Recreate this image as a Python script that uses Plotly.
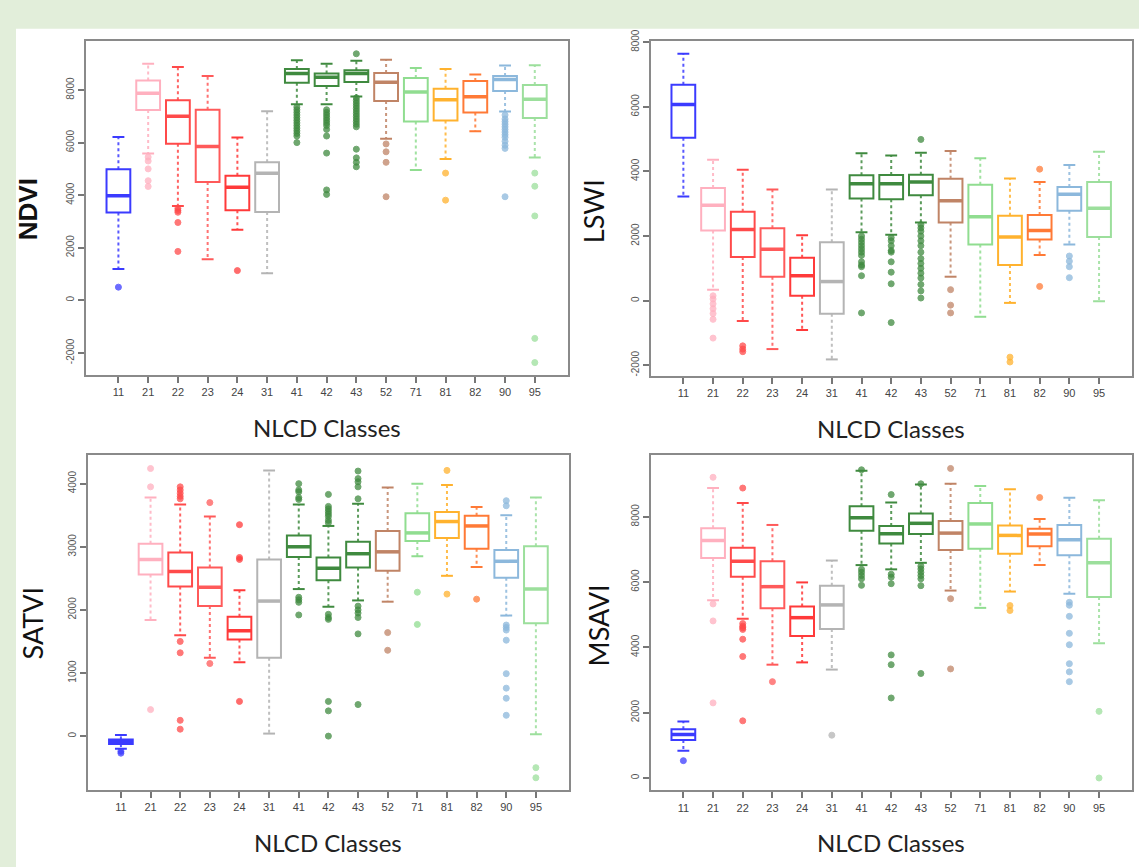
import plotly.graph_objects as go

CLASSES = ["11", "21", "22", "23", "24", "31", "41", "42", "43", "52", "71", "81", "82", "90", "95"]
COLORS = ["#3b3bff", "#ffb0bf", "#ff4a4a", "#ff5a5a", "#ff3a3a", "#b4b4b4", "#3f8a3f", "#3f8a3f",
          "#3f8a3f", "#c08466", "#90dd90", "#ffb22e", "#ff7a36", "#8cb8dc", "#9cdf9c"]

# ---------------- NDVI ----------------
NDVI_HI = [6210, 9000, 8880, 8530, 6190, 7190, 9130, 9000, 9110, 9150, 8840, 8800, 8590, 8930, 8940]
NDVI_Q3 = [4990, 8360, 7610, 7250, 4740, 5250, 8800, 8630, 8750, 8650, 8460, 8050, 8340, 8530, 8190]
NDVI_MED = [3980, 7880, 7000, 5850, 4300, 4830, 8630, 8490, 8630, 8300, 7930, 7630, 7740, 8400, 7650]
NDVI_Q1 = [3340, 7240, 5960, 4500, 3430, 3360, 8280, 8150, 8310, 7580, 6800, 6840, 7150, 7960, 6940]
NDVI_LO = [1190, 5590, 3590, 1560, 2680, 1030, 7460, 7460, 7750, 6150, 4960, 5380, 6430, 7180, 5430]
NDVI_OUT = [
    [500],
    [5450, 5300, 5000, 4550, 4330],
    [3500, 3420, 3350, 2960, 1860],
    [],
    [1130],
    [],
    [7350, 7250, 7150, 7050, 6950, 6850, 6750, 6650, 6550, 6450, 6350, 6250, 6000],
    [7250, 7150, 7050, 6950, 6850, 6750, 6650, 6500, 6250, 5600, 4200, 4030],
    [9380, 7700, 7600, 7500, 7400, 7300, 7200, 7100, 7000, 6900, 6800, 6700, 6600, 5750, 5420, 5250, 5080],
    [5950, 5650, 5250, 3940],
    [],
    [4840, 3810],
    [],
    [7050, 6900, 6800, 6700, 6600, 6500, 6400, 6300, 6200, 6050, 5900, 5780, 3940],
    [4840, 4340, 3210, -1450, -2370],
]

# ---------------- LSWI ----------------
LSWI_HI = [7640, 4360, 4050, 3440, 2020, 3440, 4560, 4490, 4580, 4630, 4410, 3780, 3670, 4200, 4610]
LSWI_Q3 = [6680, 3490, 2750, 2240, 1330, 1810, 3880, 3890, 3900, 3770, 3590, 2630, 2650, 3520, 3670]
LSWI_MED = [6070, 2950, 2200, 1590, 770, 590, 3620, 3620, 3670, 3090, 2600, 1970, 2170, 3290, 2860]
LSWI_Q1 = [5040, 2170, 1350, 740, 150, -410, 3160, 3140, 3260, 2420, 1740, 1100, 1890, 2780, 1970]
LSWI_LO = [3220, 340, -630, -1500, -910, -1820, 2120, 2040, 2420, 740, -500, -70, 1410, 1740, -20]
LSWI_OUT = [
    [],
    [150, 50, -100, -250, -400, -580, -1160],
    [-1400, -1500, -1580],
    [],
    [],
    [],
    [2000, 1900, 1800, 1700, 1600, 1500, 1400, 1200, 1100, 1050, 770, -380],
    [1950, 1850, 1700, 1550, 1500, 1200, 880, 520, -680],
    [4990, 2350, 2250, 2150, 2000, 1850, 1700, 1500, 1300, 1150, 1000, 850, 700, 500, 300, 80],
    [340, -140, -380],
    [],
    [-1750, -1900],
    [4070, 440],
    [1380, 1220, 1050, 710],
    [],
]

# ---------------- SATVI ----------------
SATVI_HI = [16, 3780, 3670, 3480, 2310, 4210, 3670, 3330, 3680, 3940, 4000, 3980, 3630, 3500, 3780]
SATVI_Q3 = [-52, 3050, 2910, 2670, 1890, 2800, 3180, 2830, 3080, 3250, 3530, 3550, 3490, 2950, 3010]
SATVI_MED = [-89, 2800, 2610, 2360, 1670, 2140, 3000, 2660, 2890, 2920, 3220, 3400, 3330, 2770, 2330]
SATVI_Q1 = [-125, 2560, 2370, 2060, 1530, 1240, 2840, 2470, 2670, 2620, 3090, 3140, 2970, 2510, 1790]
SATVI_LO = [-200, 1840, 1600, 1240, 1170, 40, 2330, 2050, 2150, 2130, 2850, 2540, 2680, 1910, 30]
SATVI_OUT = [
    [-240, -270],
    [4240, 3950, 420],
    [3950, 3900, 3850, 3800, 3760, 1500, 1320, 250, 110],
    [3700, 1150],
    [3350, 2830, 2800, 550],
    [],
    [4000, 3900, 3870, 3780, 3750, 2200, 2160, 2120, 1920],
    [3830, 3640, 3600, 3560, 3520, 3480, 3420, 3380, 1930, 1880, 1850, 550, 400, 0],
    [4200, 4080, 4030, 3950, 3760, 2060, 2000, 1950, 1880, 1620, 500],
    [1640, 1360],
    [2280, 1770],
    [4210, 2250],
    [2170],
    [3730, 3650, 1760, 1720, 1680, 1520, 990, 760, 600, 330],
    [-500, -660],
]

# ---------------- MSAVI ----------------
MSAVI_HI = [1730, 8880, 8420, 7750, 5990, 6660, 9410, 8440, 8990, 9010, 8940, 8840, 7930, 8580, 8510]
MSAVI_Q3 = [1490, 7650, 7050, 6640, 5250, 5890, 8320, 7720, 8100, 7870, 8420, 7730, 7630, 7750, 7330]
MSAVI_MED = [1330, 7270, 6640, 5860, 4910, 5300, 7970, 7480, 7800, 7500, 7780, 7430, 7470, 7300, 6590]
MSAVI_Q1 = [1160, 6740, 6160, 5200, 4350, 4560, 7570, 7180, 7470, 6980, 7020, 6870, 7100, 6820, 5540]
MSAVI_LO = [830, 5440, 4880, 3470, 3540, 3320, 6520, 6390, 6590, 5740, 5210, 5710, 6520, 5640, 4130]
MSAVI_OUT = [
    [530],
    [9210, 5330, 4810, 2300],
    [8880, 4730, 4650, 4600, 4550, 4250, 3720, 1750],
    [2950],
    [],
    [1310],
    [9440, 6390, 6300, 6200, 6100, 5900],
    [8680, 6240, 6150, 5950, 3770, 3470, 2450],
    [9010, 6490, 6400, 6300, 6200, 6100, 5890, 3200],
    [9480, 5490, 3340],
    [],
    [5280, 5130],
    [8590],
    [5380, 5290, 4950, 4430, 4080, 3500, 3250, 2950],
    [2040, 0],
]

Y_TICKS_NDVI = [-2000, 0, 2000, 4000, 6000, 8000]
Y_TICKS_LSWI = [-2000, 0, 2000, 4000, 6000, 8000]
Y_TICKS_SATVI = [0, 1000, 2000, 3000, 4000]
Y_TICKS_MSAVI = [0, 2000, 4000, 6000, 8000]

W, H = 1139, 867
BG = "#e2eeda"

panels = [
    dict(name="NDVI", bold=True, hi=NDVI_HI, q3=NDVI_Q3, med=NDVI_MED, q1=NDVI_Q1, lo=NDVI_LO, out=NDVI_OUT,
         yrange=[-2850, 9870], yticks=Y_TICKS_NDVI, px=(85.7, 567.5), py=(29.3, 368.3), ytx=28, yty=200),
    dict(name="LSWI", bold=False, hi=LSWI_HI, q3=LSWI_Q3, med=LSWI_MED, q1=LSWI_Q1, lo=LSWI_LO, out=LSWI_OUT,
         yrange=[-2330, 8040], yticks=Y_TICKS_LSWI, px=(650.7, 1131.7), py=(29.3, 369), ytx=593, yty=202),
    dict(name="SATVI", bold=False, hi=SATVI_HI, q3=SATVI_Q3, med=SATVI_MED, q1=SATVI_Q1, lo=SATVI_LO, out=SATVI_OUT,
         yrange=[-855, 4453], yticks=Y_TICKS_SATVI, px=(88.3, 568.5), py=(449.3, 789), ytx=32, yty=620),
    dict(name="MSAVI", bold=False, hi=MSAVI_HI, q3=MSAVI_Q3, med=MSAVI_MED, q1=MSAVI_Q1, lo=MSAVI_LO, out=MSAVI_OUT,
         yrange=[-380, 9890], yticks=Y_TICKS_MSAVI, px=(650.7, 1131.7), py=(449.3, 789.3), ytx=598, yty=622),
]

positions = list(range(1, len(CLASSES) + 1))
HALF = 0.4   # half box width (R boxwex 0.8)
CAP = 0.2    # half staple width

fig = go.Figure()
layout_axes = {}
annotations = []

for p, pan in enumerate(panels):
    sfx = "" if p == 0 else str(p + 1)
    xa, ya = "x" + sfx, "y" + sfx
    for i, cls in enumerate(CLASSES):
        x = positions[i]
        c = COLORS[i]
        q1, med, q3 = pan["q1"][i], pan["med"][i], pan["q3"][i]
        lo, hi = pan["lo"][i], pan["hi"][i]
        # whiskers (dotted)
        fig.add_trace(go.Scatter(x=[x, x, None, x, x], y=[q3, hi, None, q1, lo], mode="lines",
                                 line=dict(color=c, width=2, dash="dot"), xaxis=xa, yaxis=ya,
                                 showlegend=False, hoverinfo="skip", opacity=0.85))
        # staples
        fig.add_trace(go.Scatter(x=[x - CAP, x + CAP, None, x - CAP, x + CAP], y=[hi, hi, None, lo, lo],
                                 mode="lines", line=dict(color=c, width=2), xaxis=xa, yaxis=ya,
                                 showlegend=False, hoverinfo="skip"))
        # box
        fig.add_trace(go.Box(x=[x], q1=[q1], median=[med], q3=[q3], lowerfence=[q1], upperfence=[q3],
                             width=2 * HALF, line=dict(color=c, width=2), fillcolor="rgba(255,255,255,1)",
                             boxpoints=False, xaxis=xa, yaxis=ya, showlegend=False, hoverinfo="skip",
                             name=cls))
        # thick median
        fig.add_trace(go.Scatter(x=[x - HALF, x + HALF], y=[med, med], mode="lines",
                                 line=dict(color=c, width=3.5), xaxis=xa, yaxis=ya,
                                 showlegend=False, hoverinfo="skip"))
        # outliers
        if pan["out"][i]:
            fig.add_trace(go.Scatter(x=[x] * len(pan["out"][i]), y=pan["out"][i], mode="markers",
                                     marker=dict(symbol="circle", size=6, color=c, opacity=0.75,
                                                 line=dict(color=c, width=1)),
                                     xaxis=xa, yaxis=ya, showlegend=False, hoverinfo="skip"))

    x0, x1 = pan["px"]
    y0, y1 = pan["py"]
    layout_axes["xaxis" + sfx] = dict(
        domain=[x0 / W, x1 / W], anchor=ya, range=[-0.1, 16.1],
        tickmode="array", tickvals=positions, ticktext=CLASSES,
        ticks="outside", ticklen=6, tickwidth=1.5, tickcolor="#777777",
        tickfont=dict(family="Liberation Sans, Arial, sans-serif", size=11, color="#444444"),
        showline=True, mirror=True, linecolor="#8a8a8a", linewidth=2,
        showgrid=False, zeroline=False, fixedrange=True,
    )
    layout_axes["yaxis" + sfx] = dict(
        domain=[1 - y1 / H, 1 - y0 / H], anchor=xa, range=pan["yrange"],
        tickmode="array", tickvals=pan["yticks"], ticktext=[str(v) for v in pan["yticks"]],
        tickangle=-90, ticks="outside", ticklen=6, tickwidth=1.5, tickcolor="#777777",
        tickfont=dict(family="Liberation Sans, Arial, sans-serif", size=10, color="#555555"),
        showline=True, mirror=True, linecolor="#8a8a8a", linewidth=2,
        showgrid=False, zeroline=False, fixedrange=True,
    )
    # x title
    annotations.append(dict(text="NLCD Classes", xref="paper", yref="paper",
                            x=(x0 + x1) / 2 / W, y=1 - (y1 + 53) / H, xanchor="center", yanchor="middle",
                            showarrow=False, font=dict(family="Lato, Open Sans, sans-serif", size=24,
                                                       color="#222222")))
    # y title
    label = "<b>%s</b>" % pan["name"] if pan["bold"] else pan["name"]
    annotations.append(dict(text=label, xref="paper", yref="paper",
                            x=pan["ytx"] / W, y=1 - pan["yty"] / H, xanchor="center", yanchor="middle",
                            textangle=-90, showarrow=False,
                            font=dict(family="Liberation Sans, Arial, sans-serif" if pan["bold"] else "Lato, sans-serif",
                                      size=26 if pan["bold"] else 27, color="#111111")))

fig.update_layout(
    width=W, height=H, margin=dict(l=0, r=0, t=0, b=0),
    paper_bgcolor=BG, plot_bgcolor="#ffffff",
    showlegend=False,
    annotations=annotations,
    shapes=[dict(type="rect", xref="paper", yref="paper", x0=16 / W, x1=1, y0=0, y1=1 - 17 / H,
                 fillcolor="#ffffff", line=dict(width=0), layer="below")],
    **layout_axes,
)

fig.write_html(
    "out.html",
    config={"displayModeBar": False},
    post_script="document.body.style.margin='0';document.body.style.overflow='hidden';"
                "document.body.style.background='%s';" % BG,
)
